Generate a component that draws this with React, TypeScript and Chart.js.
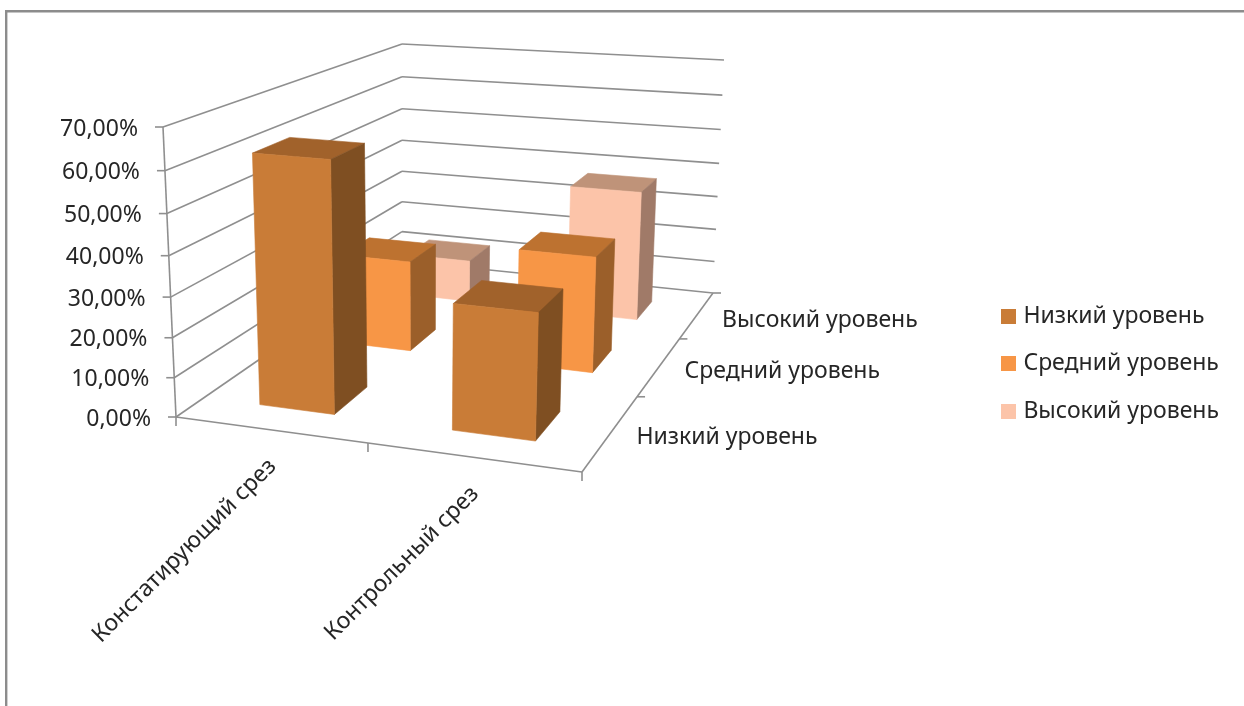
import React, { useEffect, useRef } from "react";
import { Chart, BarController, BarElement, CategoryScale, LinearScale, Legend } from "chart.js";

// Chart content
const slices = ["Констатирующий срез", "Контрольный срез"];
const levels = ["Низкий уровень", "Средний уровень", "Высокий уровень"];
const lowLevel = [62.5, 31.25];
const middleLevel = [25, 31.25];
const highLevel = [12.5, 37.5];
const valueMax = 70;
const valueStep = 10;

const FONT = '"Noto Sans", "Open Sans", sans-serif';
const FONT_SIZE = 23;
const TEXT = "#262626";
const GRID = "#8f8f8f";

// Face colours per series: front, top, side
const SHADES = [
  { front: "#c97c37", top: "#a1622b", side: "#7f4f22" },
  { front: "#f79646", top: "#bd7230", side: "#9b5f2a" },
  { front: "#fcc4a9", top: "#bf9379", side: "#a07a68" },
];

type Pt = [number, number];

// Corners of the drawn box, indexed [across][depth][height]
const BOX: Pt[][][] = [
  [
    [[176, 417], [163, 127]],
    [[402, 261], [402, 44]],
  ],
  [
    [[582, 472], [592, 161]],
    [[713, 293], [724, 60]],
  ],
];

// Perspective spacing along each axis
const foreshorten = (t: number, k: number) => (t * k) / (1 + (k - 1) * t);
const warpAcross = (u: number) => foreshorten(u, 0.897);
const warpDepth = (w: number) => foreshorten(w, 1.45);
const warpHeight = (t: number) => foreshorten(t, 0.94);

const lerp = (a: Pt, b: Pt, t: number): Pt => [a[0] + (b[0] - a[0]) * t, a[1] + (b[1] - a[1]) * t];

function project(u: number, w: number, h: number): Pt {
  const U = warpAcross(u);
  const W = warpDepth(w);
  const H = warpHeight(h);
  const at = (i: number) =>
    lerp(lerp(BOX[i][0][0], BOX[i][0][1], H), lerp(BOX[i][1][0], BOX[i][1][1], H), W);
  return lerp(at(0), at(1), U);
}

const heightOf = (scale: any, value: number) => (value - scale.min) / (scale.max - scale.min);

const TICK_LABEL_GAP = 25;
const TICK_LABEL_DROP = 2;

// Linear value scale whose ticks and labels follow the slanted front edge of the box
class ForeshortenedScale extends LinearScale {
  static id = "foreshortened";
  static defaults = LinearScale.defaults;
  getPixelForValue(value: number) {
    const s = this as any;
    return s.bottom + (s.top - s.bottom) * warpHeight(heightOf(s, value));
  }
  _computeLabelItems(area: any) {
    const s = this as any;
    const items = (LinearScale.prototype as any)._computeLabelItems.call(this, area);
    items.forEach((item: any, i: number) => {
      const edge = project(0, 0, heightOf(s, s.ticks[i].value));
      item.options.translation = [edge[0] - TICK_LABEL_GAP, item.options.translation[1] + TICK_LABEL_DROP];
    });
    return items;
  }
}

const BAR_HALF_WIDTH = 0.1;
const BAR_HALF_DEPTH = 0.066;
const ROW_SHIFT = 0.01;
const COLUMN_SHIFT = 0.004;

const across = (x: any, i: number) => (x.getPixelForValue(i) - x.left) / x.width;
const depthOf = (z: any, i: number) => (z.getPixelForValue(i) - z.left) / z.width;

function polygon(ctx: CanvasRenderingContext2D, pts: Pt[], fill: string) {
  ctx.beginPath();
  pts.forEach((p, i) => (i ? ctx.lineTo(p[0], p[1]) : ctx.moveTo(p[0], p[1])));
  ctx.closePath();
  ctx.fillStyle = fill;
  ctx.strokeStyle = fill;
  ctx.lineWidth = 0.6;
  ctx.fill();
  ctx.stroke();
}

// Bar controller that renders each value as a cuboid standing on the floor of the box
class Bar3DController extends BarController {
  static id = "bar3d";
  static defaults = BarController.defaults;
  static overrides = BarController.overrides;
  draw() {
    const self = this as any;
    const chart = self.chart;
    const ctx: CanvasRenderingContext2D = chart.ctx;
    const { x, y, z } = chart.scales;
    const values: number[] = self.getDataset().data;
    const shade = SHADES[self.index];
    const c = depthOf(z, self.index) - ROW_SHIFT;
    values.forEach((v, i) => {
      const m = across(x, i) + COLUMN_SHIFT;
      const u0 = m - BAR_HALF_WIDTH;
      const u1 = m + BAR_HALF_WIDTH;
      const w0 = c - BAR_HALF_DEPTH;
      const w1 = c + BAR_HALF_DEPTH;
      const t = heightOf(y, v);
      polygon(ctx, [project(u0, w0, t), project(u1, w0, t), project(u1, w1, t), project(u0, w1, t)], shade.top);
      polygon(ctx, [project(u1, w0, 0), project(u1, w1, 0), project(u1, w1, t), project(u1, w0, t)], shade.side);
      polygon(ctx, [project(u0, w0, 0), project(u1, w0, 0), project(u1, w0, t), project(u0, w0, t)], shade.front);
    });
  }
}

function line(ctx: CanvasRenderingContext2D, a: Pt, b: Pt) {
  ctx.beginPath();
  ctx.moveTo(a[0], a[1]);
  ctx.lineTo(b[0], b[1]);
  ctx.stroke();
}

// Outer frame, walls, floor edges, tick marks and the slanted axis labels
const boxPlugin = {
  id: "box3d",
  beforeDraw(chart: any) {
    const { ctx, width, height } = chart;
    ctx.save();
    ctx.strokeStyle = "#8c8c8c";
    ctx.lineWidth = 2.4;
    ctx.beginPath();
    ctx.moveTo(width, 11.2);
    ctx.lineTo(6.2, 11.2);
    ctx.lineTo(6.2, height);
    ctx.stroke();
    ctx.restore();
  },
  beforeDatasetsDraw(chart: any) {
    const { ctx } = chart;
    const { x, y, z } = chart.scales;
    ctx.save();
    ctx.strokeStyle = GRID;
    ctx.lineWidth = 1.6;
    for (const tick of y.ticks) {
      const t = heightOf(y, tick.value);
      const front = project(0, 0, t);
      const corner = project(0, 1, t);
      line(ctx, front, corner);
      line(ctx, corner, project(1, 1, t));
      line(ctx, [front[0] - 8, front[1]], front);
    }
    line(ctx, project(0, 0, 0), project(0, 0, 1));
    line(ctx, project(0, 0, 0), project(1, 0, 0));
    line(ctx, project(1, 0, 0), project(1, 1, 0));

    // Tick marks under the front edge and beside the depth edge
    const tickPos = [0, across(x, 0) + across(x, 1) - 0.5, 1];
    tickPos.forEach((u) => {
      const p = project(u, 0, 0);
      line(ctx, p, [p[0], p[1] + 9]);
    });
    [1 / 3, 2 / 3, 1].forEach((w) => {
      const p = project(1, w, 0);
      line(ctx, p, [p[0] + 8, p[1]]);
    });

    ctx.fillStyle = TEXT;
    ctx.font = `${FONT_SIZE}px ${FONT}`;

    // Category labels run up to the front edge at 45 degrees
    x.getLabels().forEach((label: string, i: number) => {
      const p = project(across(x, i), 0, 0);
      ctx.save();
      ctx.translate(p[0] + 3, p[1] + 33);
      ctx.rotate(-Math.PI / 4);
      ctx.textAlign = "right";
      ctx.textBaseline = "middle";
      ctx.fillText(label, 0, 0);
      ctx.restore();
    });

    // Depth labels sit to the right of the depth edge
    ctx.textAlign = "left";
    ctx.textBaseline = "middle";
    z.getLabels().forEach((label: string, i: number) => {
      const p = project(1, depthOf(z, i), 0);
      ctx.fillText(label, p[0] + 25, p[1] + 5.5);
    });
    ctx.restore();
  },
};

Chart.register(Bar3DController, BarElement, CategoryScale, LinearScale, ForeshortenedScale, Legend);

const hiddenParts = {
  ticks: { display: false },
  grid: { display: false },
  border: { display: false },
};

// Square legend marker of the series' front colour
function swatch(color: string) {
  const c = document.createElement("canvas");
  c.width = 15;
  c.height = 15;
  const g = c.getContext("2d") as CanvasRenderingContext2D;
  g.fillStyle = color;
  g.fillRect(0, 0, 15, 15);
  return c;
}

export default function App() {
  const ref = useRef<HTMLCanvasElement>(null);
  useEffect(() => {
    const swatches = SHADES.map((s) => swatch(s.front));
    const chart = new Chart(ref.current as HTMLCanvasElement, {
      type: "bar3d" as any,
      data: {
        labels: slices,
        datasets: [lowLevel, middleLevel, highLevel].map((data, i) => ({
          label: levels[i],
          data,
          backgroundColor: SHADES[i].front,
          borderWidth: 0,
          clip: false,
        })),
      },
      plugins: [boxPlugin],
      options: {
        animation: false,
        responsive: false,
        layout: { padding: { top: 21, right: 15 } },
        scales: {
          x: {
            type: "category",
            offset: true,
            ...hiddenParts,
            afterFit: (s: any) => {
              s.height = 289;
            },
          },
          spacer: {
            type: "category",
            axis: "x",
            position: "top",
            labels: [""],
            ...hiddenParts,
            afterFit: (s: any) => {
              s.height = 106;
            },
          },
          z: { type: "category", axis: "x", labels: levels, offset: true, display: false },
          y: {
            type: "foreshortened",
            min: 0,
            max: valueMax,
            afterFit: (s: any) => {
              s.width = 152;
            },
            grid: { display: false, drawTicks: false },
            border: { display: false },
            ticks: {
              stepSize: valueStep,
              padding: 0,
              color: TEXT,
              font: { family: FONT, size: FONT_SIZE },
              callback: (v: any) => `${Number(v).toFixed(2).replace(".", ",")}%`,
            },
          },
        } as any,
        plugins: {
          legend: {
            position: "right",
            labels: {
              usePointStyle: true,
              boxWidth: 6,
              padding: 24.5,
              color: TEXT,
              font: { family: FONT, size: FONT_SIZE },
              generateLabels: (c: any) =>
                (Chart.defaults.plugins.legend.labels as any)
                  .generateLabels(c)
                  .map((item: any, i: number) => ({ ...item, pointStyle: swatches[i] })),
            },
          },
          tooltip: { enabled: false },
        },
      } as any,
    });
    return () => chart.destroy();
  }, []);
  return (
    <div style={{ position: "fixed", left: 0, top: 0, width: 1244, height: 706, background: "#fff" }}>
      <canvas ref={ref} width={1244} height={706} style={{ display: "block" }} />
    </div>
  );
}
